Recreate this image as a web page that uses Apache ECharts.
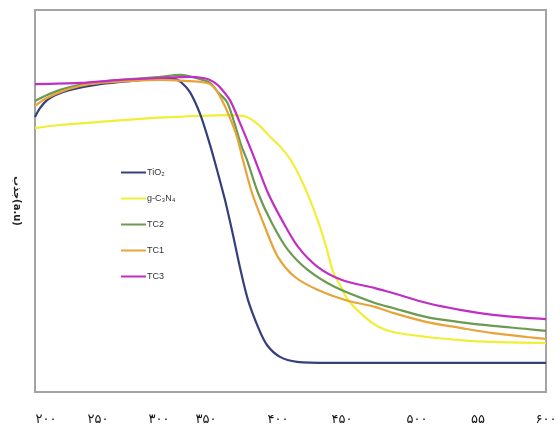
<!DOCTYPE html>
<html><head><meta charset="utf-8">
<script src="https://cdn.jsdelivr.net/npm/echarts@6/dist/echarts.min.js"></script>
<style>html,body{margin:0;padding:0;background:#fff}#c{width:560px;height:432px}</style>
</head><body><div id="c"></div>
<script>
// wavelength (nm), absorbance (a.u.)
const tio2 = [[200,72.0],[203.9,74.3],[209.4,76.4],[215.7,77.7],[227.4,79.1],[250.9,80.6],[274.4,81.4],[297.8,81.9],[309.6,81.9],[315.0,80.9],[321.3,78.5],[329.2,72.8],[337.0,64.7],[342.5,58.1],[348.7,50.3],[355.0,41.1],[360.5,32.5],[366.7,24.1],[374.6,17.0],[381.6,12.3],[391.8,9.2],[405.1,7.9],[430.9,7.6],[600,7.6]];
const gcn = [[200,69.1],[219.6,69.9],[250.9,70.7],[290.0,71.7],[329.2,72.3],[352.6,72.5],[366.0,72.0],[376.1,69.6],[384.0,66.8],[391.8,64.3],[399.6,61.0],[407.4,56.3],[415.3,50.3],[423.1,43.2],[428.6,37.2],[433.3,31.5],[440.3,27.0],[445.0,24.1],[458.3,19.6],[467.7,17.3],[480.2,15.7],[506.8,14.4],[532.7,13.6],[558.5,13.1],[600,12.8]];
const tc2 = [[200,76.2],[207.8,77.5],[219.6,79.1],[235.2,80.4],[250.9,81.2],[274.4,81.9],[297.8,82.5],[313.5,83.0],[329.2,81.9],[337.0,80.9],[343.2,78.5],[350.3,75.9],[356.6,69.9],[361.3,64.7],[366.0,60.7],[374.6,52.1],[385.5,44.2],[398.0,37.2],[413.7,31.9],[434.8,27.5],[466.1,23.3],[480.2,22.0],[506.8,19.6],[532.7,18.3],[558.5,17.3],[585.1,16.5],[600,16.0]];
const tc1 = [[200,74.9],[207.8,76.7],[219.6,78.5],[235.2,80.1],[250.9,80.9],[274.4,81.4],[297.8,81.7],[321.3,81.4],[329.2,81.2],[337.0,80.6],[341.7,79.1],[346.4,76.4],[351.1,73.0],[358.1,66.8],[362.8,60.7],[369.9,52.1],[380.0,43.2],[390.2,35.3],[403.5,30.1],[421.5,26.7],[442.7,24.1],[466.1,22.3],[480.2,20.7],[506.8,18.3],[532.7,16.8],[558.5,15.4],[585.1,14.4],[600,13.9]];
const tc3 = [[200,80.6],[235.2,80.9],[266.5,81.7],[297.8,82.2],[321.3,82.5],[331.5,82.2],[337.0,81.7],[340.9,80.9],[344.8,79.8],[352.6,76.4],[360.5,70.4],[368.3,64.1],[373.8,59.4],[382.4,52.1],[393.3,45.0],[405.9,38.0],[421.5,32.7],[440.3,29.3],[466.1,27.2],[480.2,25.9],[506.8,23.3],[532.7,21.5],[558.5,20.2],[585.1,19.4],[600,19.1]];
const seriesNames = ['TiO\u2082','g-C\u2083N\u2084','TC2','TC1','TC3'];
const tickPositions = [208.6,249.3,297.1,333.9,390.2,440.3,499.0,546.8,600];
const tickLabels = ['۲۰۰','۲۵۰','۳۰۰','۳۵۰','۴۰۰','۴۵۰','۵۰۰','۵۵','۶۰۰'];
const yName = 'جذب(a.u)';

const colors = ['#34407c','#f0ee36','#6b9a50','#e8a43a','#c02ec6'];
const datasets = [tio2,gcn,tc2,tc1,tc3];
const chart = echarts.init(document.getElementById('c'), null, {renderer:'canvas'});
chart.setOption({
  animation:false,
  backgroundColor:'#fff',
  grid:{left:35,right:14,top:10,bottom:40,show:true,borderColor:'#a3a3a3',borderWidth:2,backgroundColor:'#fff'},
  legend:{
    orient:'vertical',left:116,top:163,itemWidth:25,itemHeight:2,itemGap:17,icon:'rect',
    textStyle:{fontFamily:'Liberation Sans',fontSize:9,color:'#333',padding:[0,0,0,-4]},
    data:seriesNames
  },
  xAxis:{
    type:'value',min:200,max:600,
    axisLine:{show:false},axisTick:{show:false},splitLine:{show:false},
    axisLabel:{
      customValues:tickPositions,margin:21,
      fontFamily:'DejaVu Sans',fontSize:13,color:'#111',
      formatter:function(v){const i=tickPositions.indexOf(v);return i>=0?tickLabels[i]:'';}
    }
  },
  yAxis:{
    type:'value',min:0,max:100,
    name:yName,nameLocation:'middle',nameRotate:-90,nameGap:13,
    nameTextStyle:{fontFamily:'DejaVu Sans',fontSize:10,fontWeight:'bold',color:'#222'},
    axisLine:{show:false},axisTick:{show:false},splitLine:{show:false},axisLabel:{show:false}
  },
  series:datasets.map((d,i)=>({
    name:seriesNames[i],type:'line',data:d,smooth:0.3,showSymbol:false,symbol:'none',
    lineStyle:{width:2.2,color:colors[i]},itemStyle:{color:colors[i]},z:i===1?1:2
  }))
});
</script></body></html>
